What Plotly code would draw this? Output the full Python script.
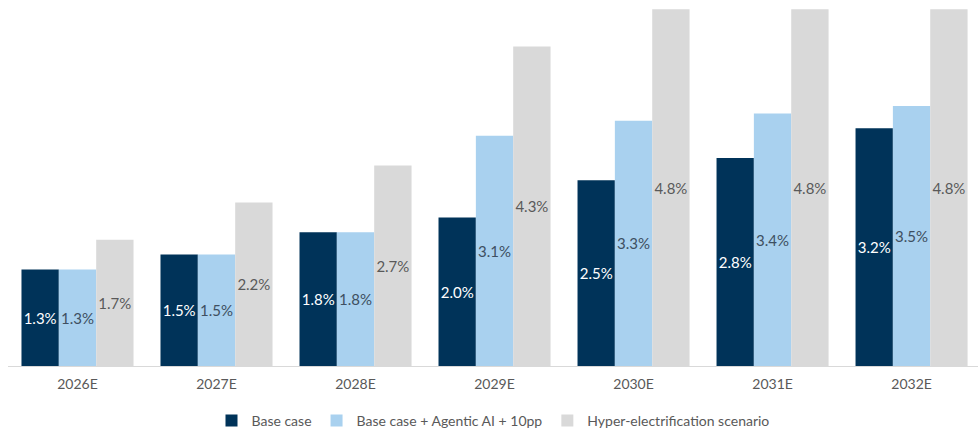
import plotly.graph_objects as go

years = ["2026E", "2027E", "2028E", "2029E", "2030E", "2031E", "2032E"]
base_case = [1.3, 1.5, 1.8, 2.0, 2.5, 2.8, 3.2]
agentic_ai = [1.3, 1.5, 1.8, 3.1, 3.3, 3.4, 3.5]
hyper_elec = [1.7, 2.2, 2.7, 4.3, 4.8, 4.8, 4.8]

series = [
    ("Base case", base_case, "#003359", "#FFFFFF"),
    ("Base case + Agentic AI + 10pp", agentic_ai, "#A9D1EF", "#3E4F61"),
    ("Hyper-electrification scenario", hyper_elec, "#D9D9D9", "#595959"),
]

FONT = "Lato, 'Open Sans', sans-serif"

fig = go.Figure()
for name, vals, color, txt_color in series:
    fig.add_trace(go.Bar(
        name=name,
        x=years,
        y=vals,
        marker=dict(color=color, line=dict(width=0)),
        text=[f"{v:.1f}%" for v in vals],
        textposition="inside",
        insidetextanchor="middle",
        textangle=0,
        textfont=dict(family=FONT, size=15, color=txt_color),
        constraintext="none",
        cliponaxis=False,
    ))

fig.update_layout(
    width=978,
    height=432,
    margin=dict(l=8, r=0, t=0, b=66, autoexpand=False),
    paper_bgcolor="white",
    plot_bgcolor="white",
    barmode="group",
    bargap=0.194,
    bargroupgap=0,
    font=dict(family=FONT, size=14, color="#595959"),
    showlegend=True,
    legend=dict(
        orientation="h",
        x=0.5,
        xanchor="center",
        y=-0.15,
        yanchor="middle",
        font=dict(family=FONT, size=14, color="#595959"),
        itemwidth=30,
        traceorder="normal",
    ),
    xaxis=dict(
        range=[-0.5, 6.478],
        showline=True,
        linecolor="#D9D9D9",
        linewidth=1,
        ticks="outside",
        ticklen=5,
        tickcolor="rgba(0,0,0,0)",
        showgrid=False,
        tickfont=dict(family=FONT, size=14, color="#595959"),
    ),
    yaxis=dict(
        range=[0, 4.926],
        visible=False,
        showgrid=False,
        zeroline=False,
    ),
)

fig.write_html("out.html")
